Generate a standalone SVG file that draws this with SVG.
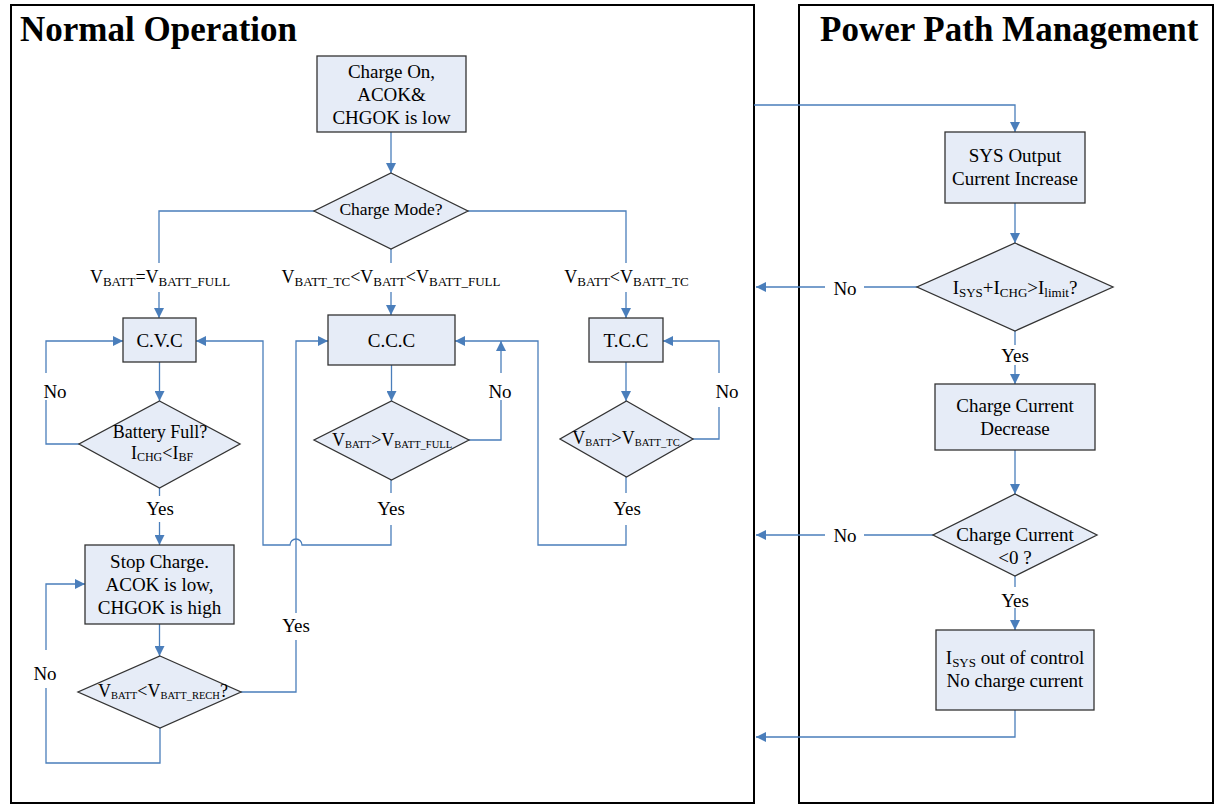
<svg xmlns="http://www.w3.org/2000/svg" width="1215" height="806" viewBox="0 0 1215 806">
<style>
.frame{fill:none;stroke:#000;stroke-width:2}
.node{fill:#E6ECF7;stroke:#333;stroke-width:1.3}
.conn{fill:none;stroke:#4A7EBB;stroke-width:1.3}
.t{font-family:"Liberation Serif","Times New Roman",serif;font-size:19px;fill:#000;text-anchor:middle}
.title{font-family:"Liberation Serif","Times New Roman",serif;font-size:35px;font-weight:bold;fill:#000}
.s13{font-size:13px}
.s10{font-size:10.5px}
.eq{font-size:18px}
</style>
<defs>
<marker id="ah" markerUnits="userSpaceOnUse" markerWidth="10" markerHeight="10" refX="10" refY="5" orient="auto">
<path d="M0,0 L10,5 L0,10 z" fill="#4A7EBB"/>
</marker>
</defs>
<rect width="1215" height="806" fill="#fff"/>
<g id="frames">
<rect class="frame" x="11" y="5" width="743" height="798"/>
<rect class="frame" x="799" y="5" width="414" height="798"/>
<text class="title" x="20" y="41">Normal Operation</text>
<text class="title" x="820" y="41">Power Path Management</text>
</g>
<g id="connectors">
<path class="conn" d="M391,132 V173" marker-end="url(#ah)"/>
<path class="conn" d="M314,211 H159 V263"/>
<path class="conn" d="M159,292 V318" marker-end="url(#ah)"/>
<path class="conn" d="M391,249 V263"/>
<path class="conn" d="M391,292 V315" marker-end="url(#ah)"/>
<path class="conn" d="M468,211 H626 V263"/>
<path class="conn" d="M626,292 V318" marker-end="url(#ah)"/>
<path class="conn" d="M159.5,362 V401" marker-end="url(#ah)"/>
<path class="conn" d="M79,444 H46 V400"/>
<path class="conn" d="M46,373 V341 H123" marker-end="url(#ah)"/>
<path class="conn" d="M159.5,488 V496"/>
<path class="conn" d="M159.5,522 V545" marker-end="url(#ah)"/>
<path class="conn" d="M159.5,624 V656" marker-end="url(#ah)"/>
<path class="conn" d="M160,728 V763 H46 V688"/>
<path class="conn" d="M46,650 V584 H85" marker-end="url(#ah)"/>
<path class="conn" d="M241,692 H296 V640"/>
<path class="conn" d="M296,613 V341 H328" marker-end="url(#ah)"/>
<path class="conn" d="M391.5,365 V401" marker-end="url(#ah)"/>
<path class="conn" d="M469,440 H501 V400"/>
<path class="conn" d="M501,373 V341" marker-end="url(#ah)"/>
<path class="conn" d="M391,480 V493"/>
<path class="conn" d="M391,525 V545 H302 A6,6 0 0 0 290,545 H263 V341 H196" marker-end="url(#ah)"/>
<path class="conn" d="M626,362 V401" marker-end="url(#ah)"/>
<path class="conn" d="M693,439 H719 V407"/>
<path class="conn" d="M719,373 V341 H663" marker-end="url(#ah)"/>
<path class="conn" d="M626,477 V493"/>
<path class="conn" d="M626,525 V545 H538 V341 H455" marker-end="url(#ah)"/>
<path class="conn" d="M754,105 H1015 V132" marker-end="url(#ah)"/>
<path class="conn" d="M1015,203 V243" marker-end="url(#ah)"/>
<path class="conn" d="M917,287 H864"/>
<path class="conn" d="M825,287 H756" marker-end="url(#ah)"/>
<path class="conn" d="M1015,331 V345"/>
<path class="conn" d="M1015,365 V384" marker-end="url(#ah)"/>
<path class="conn" d="M1015,450 V494" marker-end="url(#ah)"/>
<path class="conn" d="M933,535 H864"/>
<path class="conn" d="M825,535 H756" marker-end="url(#ah)"/>
<path class="conn" d="M1015,576 V587"/>
<path class="conn" d="M1015,608 V630" marker-end="url(#ah)"/>
<path class="conn" d="M1015,710 V737 H756" marker-end="url(#ah)"/>
</g>
<g id="labels">
<text class="t" style="font-size:18px" x="160" y="283">V<tspan class="s13" dy="3">BATT</tspan><tspan dy="-3">=V</tspan><tspan class="s13" dy="3">BATT_FULL</tspan></text>
<text class="t" style="font-size:18px" x="391" y="283">V<tspan class="s13" dy="3">BATT_TC</tspan><tspan dy="-3">&lt;V</tspan><tspan class="s13" dy="3">BATT</tspan><tspan dy="-3">&lt;V</tspan><tspan class="s13" dy="3">BATT_FULL</tspan></text>
<text class="t" style="font-size:18px" x="626.5" y="283">V<tspan class="s13" dy="3">BATT</tspan><tspan dy="-3">&lt;V</tspan><tspan class="s13" dy="3">BATT_TC</tspan></text>
<text class="t" x="55" y="398">No</text>
<text class="t" x="500" y="398">No</text>
<text class="t" x="727" y="398">No</text>
<text class="t" x="45" y="680">No</text>
<text class="t" x="160" y="515">Yes</text>
<text class="t" x="391" y="515">Yes</text>
<text class="t" x="627" y="515">Yes</text>
<text class="t" x="296" y="632">Yes</text>
<text class="t" x="845" y="295">No</text>
<text class="t" x="845" y="542">No</text>
<text class="t" x="1015" y="362">Yes</text>
<text class="t" x="1015" y="607">Yes</text>
</g>
<g id="node-start">
<rect class="node" x="317" y="56" width="149" height="76"/>
<text class="t" x="391.5" y="78">Charge On,</text>
<text class="t" x="391.5" y="101">ACOK&amp;</text>
<text class="t" x="391.5" y="124">CHGOK is low</text>
</g>
<g id="node-mode">
<polygon class="node" points="391,173 468,211 391,249 314,211"/>
<text class="t" style="font-size:17.5px" x="391" y="215">Charge Mode?</text>
</g>
<g id="node-cvc">
<rect class="node" x="123" y="318" width="73" height="44"/>
<text class="t" x="159.5" y="347">C.V.C</text>
</g>
<g id="node-battfull">
<polygon class="node" points="159.5,401 240,444 159.5,488 79,444"/>
<text class="t" style="font-size:18px" x="160" y="438">Battery Full?</text>
<text class="t" style="font-size:18px" x="162" y="459">I<tspan style="font-size:12px" dy="2">CHG</tspan><tspan dy="-2">&lt;I</tspan><tspan style="font-size:12px" dy="2">BF</tspan></text>
</g>
<g id="node-stop">
<rect class="node" x="85" y="545" width="149" height="79"/>
<text class="t" x="159.5" y="568">Stop Charge.</text>
<text class="t" x="159.5" y="591">ACOK is low,</text>
<text class="t" x="159.5" y="614">CHGOK is high</text>
</g>
<g id="node-rech">
<polygon class="node" points="160,656 241,692 160,728 78,692"/>
<text class="t eq" x="163" y="697">V<tspan class="s10" dy="1.5">BATT</tspan><tspan dy="-1.5">&lt;V</tspan><tspan class="s10" dy="1.5">BATT_RECH</tspan><tspan dy="-1.5">?</tspan></text>
</g>
<g id="node-ccc">
<rect class="node" x="328" y="315" width="127" height="50"/>
<text class="t" x="391.5" y="347">C.C.C</text>
</g>
<g id="node-ccc-check">
<polygon class="node" points="391.5,401 469,440 391.5,480 314,440"/>
<text class="t eq" x="392" y="446">V<tspan class="s10" dy="1.5">BATT</tspan><tspan dy="-1.5">&gt;V</tspan><tspan class="s10" dy="1.5">BATT_FULL</tspan></text>
</g>
<g id="node-tcc">
<rect class="node" x="589" y="318" width="74" height="44"/>
<text class="t" x="626" y="347">T.C.C</text>
</g>
<g id="node-tcc-check">
<polygon class="node" points="626.5,401 693,439 626.5,477 560,439"/>
<text class="t eq" x="626" y="444">V<tspan class="s10" dy="1.5">BATT</tspan><tspan dy="-1.5">&gt;V</tspan><tspan class="s10" dy="1.5">BATT_TC</tspan></text>
</g>
<g id="node-sys">
<rect class="node" x="945" y="132" width="140" height="71"/>
<text class="t" x="1015" y="162">SYS Output</text>
<text class="t" x="1015" y="185">Current Increase</text>
</g>
<g id="node-limit">
<polygon class="node" points="1015,243 1113,287 1015,331 917,287"/>
<text class="t" x="1015" y="294">I<tspan class="s13" dy="3">SYS</tspan><tspan dy="-3">+I</tspan><tspan class="s13" dy="3">CHG</tspan><tspan dy="-3">&gt;I</tspan><tspan class="s13" dy="3">limit</tspan><tspan dy="-3">?</tspan></text>
</g>
<g id="node-decrease">
<rect class="node" x="935" y="384" width="160" height="66"/>
<text class="t" x="1015" y="412">Charge Current</text>
<text class="t" x="1015" y="435">Decrease</text>
</g>
<g id="node-negative">
<polygon class="node" points="1015,494 1097,535 1015,576 933,535"/>
<text class="t" x="1015" y="541">Charge Current</text>
<text class="t" x="1015" y="564">&lt;0 ?</text>
</g>
<g id="node-outofcontrol">
<rect class="node" x="936" y="630" width="158" height="80"/>
<text class="t" x="1015" y="664">I<tspan class="s13" dy="3">SYS</tspan><tspan dy="-3"> out of control</tspan></text>
<text class="t" x="1015" y="687">No charge current</text>
</g>
</svg>
